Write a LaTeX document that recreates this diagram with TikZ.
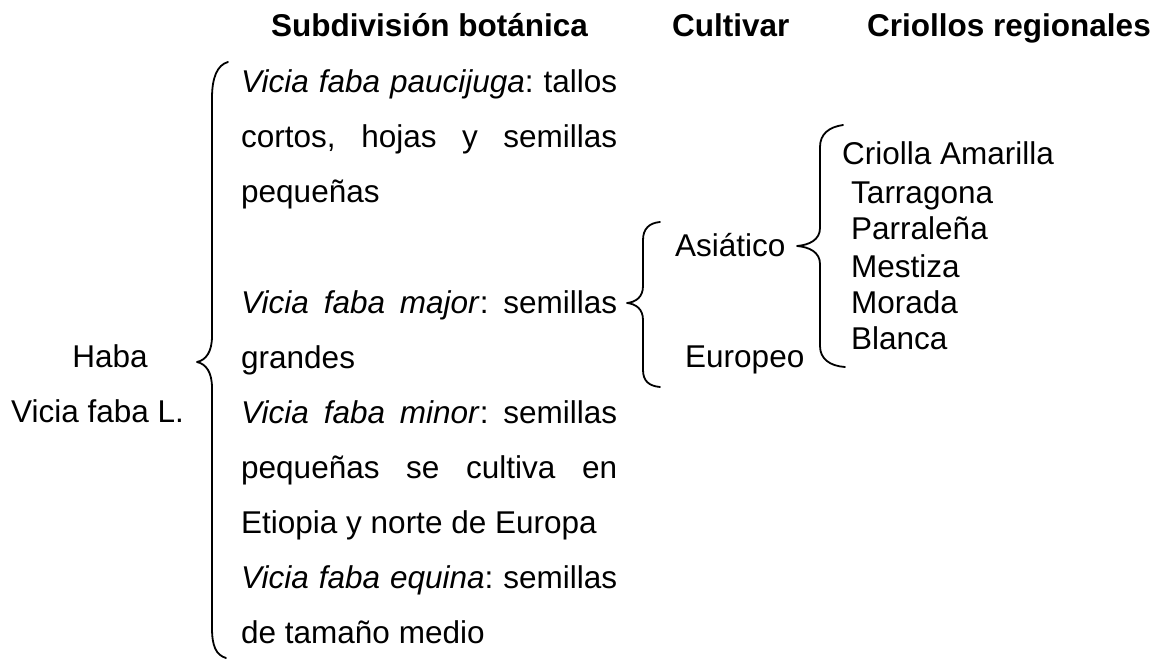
\documentclass[tikz,border=0pt]{standalone}
\usepackage{fontspec}
\setmainfont{Liberation Sans}
\frenchspacing
\newcommand\jline[1]{\makebox[376pt][s]{#1}}
\tikzset{
  txt/.style={anchor=base west, inner sep=0pt, font=\fontsize{31.5}{37}\selectfont\frenchspacing},
  hdr/.style={txt, font=\fontsize{31.5}{37}\selectfont\bfseries},
  bracepath/.style={line width=1.8pt, line cap=round, line join=round}
}
\begin{document}
\begin{tikzpicture}[x=1pt, y=-1pt]
\useasboundingbox[fill=white] (0,0) rectangle (1164,660);
% headers
\node[hdr] (h1) at (271,37) {Subdivisión botánica};
\node[hdr] (h2) at (672,37) {Cultivar};
\node[hdr] (h3) at (867,37) {Criollos regionales};
% root
\node[txt, anchor=base] (haba) at (110,367) {Haba};
\node[txt, anchor=base] (vfl) at (97.5,422) {Vicia faba L.};
% botanical subdivision
\node[txt] (l1) at (241,93) {\jline{\textit{Vicia faba paucijuga}: tallos}};
\node[txt] (l2) at (241,148) {\jline{cortos, hojas y semillas}};
\node[txt] (l3) at (241,203) {pequeñas};
\node[txt] (l4) at (241,313) {\jline{\textit{Vicia faba major}: semillas}};
\node[txt] (l5) at (241,368) {grandes};
\node[txt] (l6) at (241,423) {\jline{\textit{Vicia faba minor}: semillas}};
\node[txt] (l7) at (241,478) {\jline{pequeñas se cultiva en}};
\node[txt] (l8) at (241,533) {Etiopia y norte de Europa};
\node[txt] (l9) at (241,588) {\jline{\textit{Vicia faba equina}: semillas}};
\node[txt] (l10) at (241,643) {de tamaño medio};
% cultivar
\node[txt] (asia) at (675,257) {Asiático};
\node[txt] (euro) at (685,367) {Europeo};
% criollos
\node[txt] (c1) at (842,165) {Criolla Amarilla};
\node[txt] (c2) at (851,204) {Tarragona};
\node[txt] (c3) at (851,240) {Parraleña};
\node[txt] (c4) at (851,277) {Mestiza};
\node[txt] (c5) at (851,313) {Morada};
\node[txt] (c6) at (851,349) {Blanca};
% big brace
\draw[bracepath] (228,62) .. controls (217,65) and (212,78) .. (212,98)
  -- (212,336) .. controls (212,352) and (206,360) .. (197,362)
  .. controls (206,364) and (212,372) .. (212,388)
  -- (212,628) .. controls (212,646) and (216,655) .. (226,658);
% cultivar brace
\draw[bracepath] (660,222) .. controls (649,223) and (643,229) .. (643,240)
  -- (643,286) .. controls (643,297) and (636,302) .. (627,303)
  .. controls (636,304) and (643,309) .. (643,320)
  -- (643,370) .. controls (643,381) and (649,386) .. (660,387);
% criollos brace
\draw[bracepath] (843,125) .. controls (829,127) and (820,134) .. (820,147)
  -- (820,228) .. controls (820,240) and (809,245) .. (797,246)
  .. controls (809,247) and (820,252) .. (820,264)
  -- (820,346) .. controls (820,359) and (830,366) .. (845,367);
\end{tikzpicture}
\end{document}
